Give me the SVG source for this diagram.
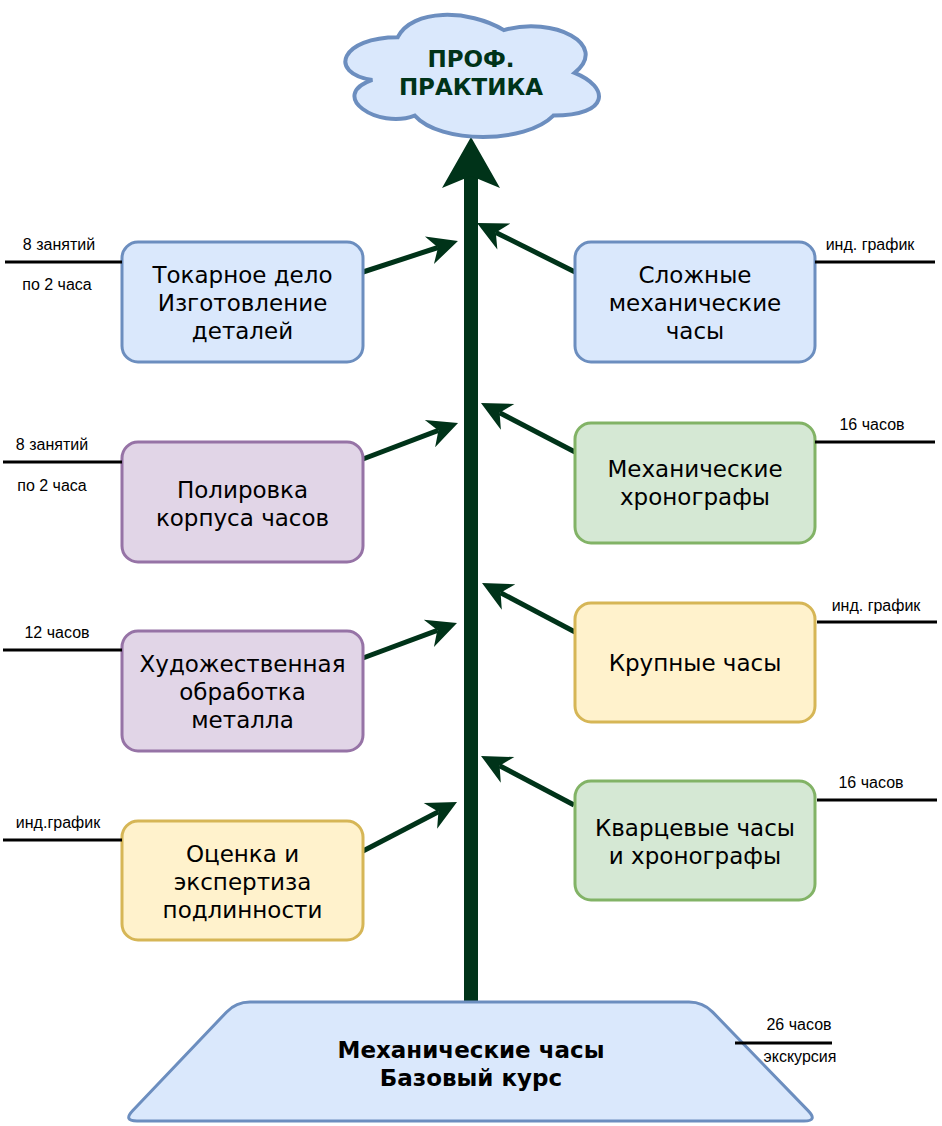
<svg xmlns="http://www.w3.org/2000/svg" width="942" height="1126" viewBox="0 0 942 1126">
<style>
.box{stroke-width:3}
.blue{fill:#dae8fc;stroke:#6c8ebf}
.purple{fill:#e1d5e7;stroke:#9673a6}
.green{fill:#d5e8d4;stroke:#82b366}
.yellow{fill:#fff2cc;stroke:#d6b656}
.t{font-family:"DejaVu Sans",Verdana,sans-serif;font-size:23px;fill:#000;text-anchor:middle}
.tb{font-family:"DejaVu Sans",Verdana,sans-serif;font-size:23px;font-weight:bold;text-anchor:middle}
.s{font-family:"Liberation Sans",Arial,sans-serif;font-size:16px;fill:#000;text-anchor:middle}
.lbl{stroke:#000;stroke-width:3;fill:none}
.conn{stroke:#003319;stroke-width:5;fill:none}
</style>
<defs>
<marker id="ah" viewBox="-12 -16 34 32" refX="0" refY="0" markerWidth="34" markerHeight="32" markerUnits="userSpaceOnUse" orient="auto">
<path d="M21,0 L-9,-14.5 L0,0 L-9,14.5 Z" fill="#003319"/>
</marker>
</defs>
<rect width="942" height="1126" fill="#fff"/>

<g id="connectors">
<line x1="471" y1="1004" x2="471" y2="174" stroke="#003319" stroke-width="14"/>
<path d="M471,137 L442,188 L471,176 L500,188 Z" fill="#003319"/>
<path class="conn" d="M363,272 L438,247.5" marker-end="url(#ah)"/>
<path class="conn" d="M363,459 L438.4,430.4" marker-end="url(#ah)"/>
<path class="conn" d="M363,658 L437.3,630.3" marker-end="url(#ah)"/>
<path class="conn" d="M363,851 L438.4,811.7" marker-end="url(#ah)"/>
<path class="conn" d="M575,272 L495.8,232.4" marker-end="url(#ah)"/>
<path class="conn" d="M575,452 L499.6,412.7" marker-end="url(#ah)"/>
<path class="conn" d="M575,632 L500.6,592.8" marker-end="url(#ah)"/>
<path class="conn" d="M574,805 L499.6,765.7" marker-end="url(#ah)"/>
</g>

<g id="cloud">
<path d="M397.75,37.2 C341.15,37.2 327,72.85 372.28,79.98 C327,95.65 377.94,129.85 414.73,115.6 C440.2,144.1 525.1,144.1 553.4,115.6 C610,115.6 610,87.1 574.63,72.85 C610,44.35 553.4,15.85 503.88,30.1 C468.5,8.73 411.9,8.73 397.75,37.2 Z" fill="#dae8fc" stroke="#6c8ebf" stroke-width="4"/>
<text class="tb" x="471" y="67" fill="#003319">ПРОФ.</text>
<text class="tb" x="471" y="95" fill="#003319">ПРАКТИКА</text>
</g>

<g id="base">
<path d="M250,1002 L689,1002 Q703,1002 712.7,1012.1 L808.3,1110.9 Q818,1121 804,1121 L137,1121 Q123,1121 132.6,1110.8 L226.4,1012.2 Q236,1002 250,1002 Z" fill="#dae8fc" stroke="#6c8ebf" stroke-width="3"/>
<text class="tb" x="471" y="1058" fill="#000">Механические часы</text>
<text class="tb" x="471" y="1086" fill="#000">Базовый курс</text>
<line class="lbl" x1="735" y1="1043" x2="832" y2="1043"/>
<text class="s" x="799" y="1030">26 часов</text>
<text class="s" x="800" y="1062">экскурсия</text>
</g>

<g id="n-tokar">
<rect class="box blue" x="122" y="242" width="241" height="120" rx="16"/>
<text class="t" x="242.5" y="283">Токарное дело</text>
<text class="t" x="242.5" y="311">Изготовление</text>
<text class="t" x="242.5" y="339">деталей</text>
<line class="lbl" x1="5" y1="262" x2="122" y2="262"/>
<text class="s" x="59" y="250">8 занятий</text>
<text class="s" x="57" y="290">по 2 часа</text>
</g>

<g id="n-polir">
<rect class="box purple" x="122" y="442" width="241" height="120" rx="16"/>
<text class="t" x="242.5" y="498">Полировка</text>
<text class="t" x="242.5" y="526">корпуса часов</text>
<line class="lbl" x1="3" y1="462" x2="122" y2="462"/>
<text class="s" x="52" y="450">8 занятий</text>
<text class="s" x="52" y="491">по 2 часа</text>
</g>

<g id="n-hud">
<rect class="box purple" x="122" y="631" width="241" height="120" rx="16"/>
<text class="t" x="242.5" y="672">Художественная</text>
<text class="t" x="242.5" y="700">обработка</text>
<text class="t" x="242.5" y="728">металла</text>
<line class="lbl" x1="3" y1="650" x2="122" y2="650"/>
<text class="s" x="57" y="638">12 часов</text>
</g>

<g id="n-ocenka">
<rect class="box yellow" x="122" y="821" width="241" height="119" rx="16"/>
<text class="t" x="242.5" y="862">Оценка и</text>
<text class="t" x="242.5" y="890">экспертиза</text>
<text class="t" x="242.5" y="918">подлинности</text>
<line class="lbl" x1="3" y1="840" x2="122" y2="840"/>
<text class="s" x="58" y="828">инд.график</text>
</g>

<g id="n-slozh">
<rect class="box blue" x="575" y="242" width="240" height="120" rx="16"/>
<text class="t" x="695" y="283">Сложные</text>
<text class="t" x="695" y="311">механические</text>
<text class="t" x="695" y="339">часы</text>
<line class="lbl" x1="815" y1="262" x2="935" y2="262"/>
<text class="s" x="870" y="250">инд. график</text>
</g>

<g id="n-hrono">
<rect class="box green" x="575" y="423" width="240" height="120" rx="16"/>
<text class="t" x="695" y="477">Механические</text>
<text class="t" x="695" y="505">хронографы</text>
<line class="lbl" x1="815" y1="442" x2="935" y2="442"/>
<text class="s" x="872" y="430">16 часов</text>
</g>

<g id="n-krup">
<rect class="box yellow" x="575" y="603" width="240" height="119" rx="16"/>
<text class="t" x="695" y="671">Крупные часы</text>
<line class="lbl" x1="817" y1="622" x2="937" y2="622"/>
<text class="s" x="876" y="611">инд. график</text>
</g>

<g id="n-kvarc">
<rect class="box green" x="575" y="781" width="240" height="119" rx="16"/>
<text class="t" x="695" y="836">Кварцевые часы</text>
<text class="t" x="695" y="864">и хронографы</text>
<line class="lbl" x1="817" y1="800" x2="937" y2="800"/>
<text class="s" x="871" y="788">16 часов</text>
</g>
</svg>
